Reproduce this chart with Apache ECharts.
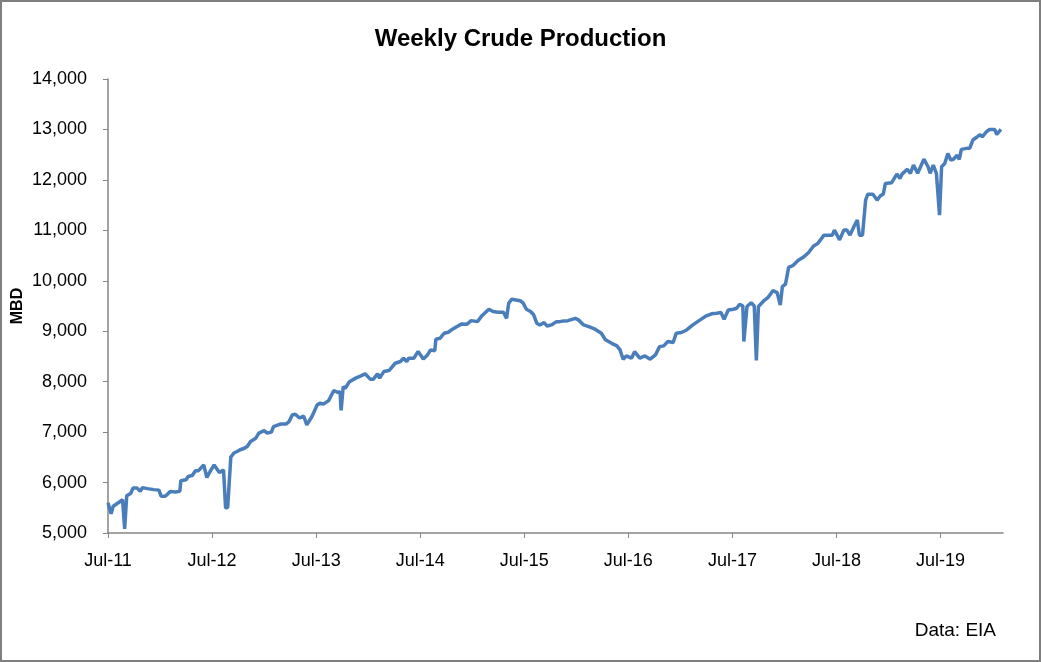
<!DOCTYPE html>
<html>
<head>
<meta charset="utf-8">
<script src="https://cdn.jsdelivr.net/npm/echarts@6/dist/echarts.min.js"></script>
<style>
html,body{margin:0;padding:0;background:#fff;}
#chart{width:1041px;height:662px;}
</style>
</head>
<body>
<div id="chart"></div>
<script>
// Decimal years and weekly crude production (MBD)
const decimalYears = [
2011.50,2011.53,2011.55,2011.62,2011.64,2011.66,2011.68,2011.72,2011.74,2011.78,2011.81,2011.83,2011.88,2011.94,2011.99,
2012.01,2012.05,2012.10,2012.15,2012.19,2012.20,2012.25,2012.27,2012.31,2012.34,2012.37,2012.42,2012.45,2012.49,2012.52,
2012.57,2012.61,2012.63,2012.65,2012.68,2012.71,2012.74,2012.77,2012.81,2012.84,2012.87,2012.92,2012.95,
2013.00,2013.03,2013.07,2013.09,2013.13,2013.16,2013.21,2013.24,2013.27,2013.30,2013.34,2013.38,2013.41,2013.46,2013.51,
2013.54,2013.57,2013.62,2013.67,2013.71,2013.73,2013.74,2013.76,2013.78,2013.82,2013.88,2013.93,2013.97,
2014.02,2014.05,2014.09,2014.11,2014.15,2014.20,2014.26,2014.31,2014.34,2014.37,2014.39,2014.44,2014.48,2014.53,2014.57,
2014.60,2014.64,2014.65,2014.69,2014.73,2014.77,2014.81,2014.85,2014.90,2014.95,2014.99,
2015.05,2015.09,2015.16,2015.20,2015.25,2015.30,2015.33,2015.35,2015.38,2015.42,2015.46,2015.49,2015.52,2015.56,2015.59,
2015.62,2015.65,2015.69,2015.72,2015.76,2015.81,2015.84,2015.88,2015.92,2015.99,
2016.02,2016.07,2016.12,2016.18,2016.24,2016.28,2016.34,2016.39,2016.42,2016.45,2016.48,2016.53,2016.56,2016.61,2016.66,
2016.71,2016.76,2016.80,2016.84,2016.88,2016.93,2016.96,
2017.01,2017.06,2017.12,2017.19,2017.25,2017.30,2017.35,2017.39,2017.42,2017.46,2017.51,2017.54,2017.57,2017.60,2017.61,
2017.64,2017.68,2017.71,2017.73,2017.75,2017.80,2017.84,2017.89,2017.93,2017.96,2017.98,
2018.01,2018.04,2018.08,2018.13,2018.18,2018.23,2018.28,2018.32,2018.38,2018.42,2018.46,2018.48,2018.53,2018.57,2018.60,
2018.63,2018.67,2018.70,2018.72,2018.75,2018.78,2018.80,2018.85,2018.89,2018.92,2018.95,2018.97,
2019.03,2019.08,2019.11,2019.13,2019.18,2019.21,2019.24,2019.28,2019.34,2019.38,2019.40,2019.43,2019.46,2019.49,2019.51,
2019.54,2019.57,2019.60,2019.62,2019.66,2019.68,2019.70,2019.75,2019.78,2019.81,2019.85,2019.88,2019.90,2019.94,2019.97,
2020.02,2020.04,2020.08
];
const production = [
5600,5380,5530,5630,5660,5080,5740,5790,5890,5890,5825,5900,5880,5860,5850,
5730,5730,5825,5815,5825,6035,6055,6120,6140,6235,6235,6350,6100,6250,6350,
6200,6250,5495,5510,6505,6585,6615,6650,6680,6720,6815,6880,6980,
7030,6980,7000,7110,7140,7160,7160,7210,7340,7355,7280,7320,7145,7310,7540,
7575,7555,7625,7825,7785,7800,7430,7900,7870,8000,8070,8115,8155,
8050,8050,8155,8070,8200,8220,8365,8400,8465,8400,8465,8465,8600,8450,8530,
8630,8610,8840,8860,8960,8980,9040,9090,9145,9140,9210,
9190,9300,9435,9390,9375,9375,9255,9555,9635,9620,9605,9555,9435,9390,9325,
9160,9125,9170,9105,9125,9190,9190,9205,9210,9255,
9225,9125,9090,9040,8960,8830,8760,8710,8630,8445,8510,8465,8595,8465,8510,
8445,8530,8695,8710,8795,8775,8960,
8975,9025,9125,9225,9305,9345,9355,9370,9235,9420,9435,9455,9535,9500,8795,
9490,9565,9500,8420,9490,9600,9665,9805,9765,9520,9885,
9935,10265,10300,10400,10465,10555,10690,10740,10905,10905,10905,11005,10810,11005,11005,
10905,11085,11205,10905,10905,11600,11715,11715,11600,11680,11720,11930,
11945,12115,12030,12115,12210,12130,12295,12130,12410,12260,12130,12295,12130,11300,12260,
12325,12525,12390,12405,12490,12405,12605,12625,12625,12790,12850,12900,12850,12950,13000,
13000,12900,13000
];
const yTicks = {min: 5000, max: 14000, interval: 1000};
const xTickLabels = ['Jul-11','Jul-12','Jul-13','Jul-14','Jul-15','Jul-16','Jul-17','Jul-18','Jul-19'];
const startYear = 2011.5;

const seriesData = decimalYears.map((t, i) => [t - startYear, production[i]]);

const chart = echarts.init(document.getElementById('chart'), null, {renderer: 'canvas'});
const font = "'Liberation Sans', Arial, sans-serif";
const axisColor = '#868686';
chart.setOption({
  animation: false,
  backgroundColor: '#ffffff',
  title: {
    text: 'Weekly Crude Production',
    left: 'center',
    top: 22,
    textStyle: {fontFamily: font, fontSize: 24, fontWeight: 'bold', color: '#000'}
  },
  graphic: [
    {type: 'rect', shape: {x: 1, y: 1, width: 1039, height: 660},
     style: {fill: 'none', stroke: '#7f7f7f', lineWidth: 2}, silent: true},
    {type: 'text', right: 45, top: 621,
     style: {text: 'Data: EIA', fontFamily: font, fontSize: 19, fill: '#000'}},
    {type: 'text', x: 18, y: 306, rotation: Math.PI / 2,
     style: {text: 'MBD', fontFamily: font, fontSize: 16, fontWeight: 'bold', fill: '#000',
             align: 'center', verticalAlign: 'middle'}}
  ],
  grid: {left: 108, right: 38, top: 79, bottom: 129, containLabel: false, outerBoundsMode: 'none'},
  xAxis: {
    type: 'value',
    min: 0,
    max: 8.6,
    interval: 1,
    splitLine: {show: false},
    axisLine: {lineStyle: {color: axisColor, width: 1.5}},
    axisTick: {show: true, length: 5, lineStyle: {color: axisColor}},
    axisLabel: {
      margin: 19,
      fontFamily: font, fontSize: 18, color: '#000',
      showMaxLabel: false,
      formatter: v => xTickLabels[Math.round(v)] || ''
    }
  },
  yAxis: {
    type: 'value',
    min: yTicks.min,
    max: yTicks.max,
    interval: yTicks.interval,
    splitLine: {show: false},
    axisLine: {show: true, lineStyle: {color: axisColor, width: 1.5}},
    axisTick: {show: true, length: 5, lineStyle: {color: axisColor}},
    axisLabel: {
      margin: 21,
      fontFamily: font, fontSize: 18, color: '#000',
      formatter: v => v.toLocaleString('en-US')
    }
  },
  series: [{
    type: 'line',
    data: seriesData,
    showSymbol: false,
    symbol: 'none',
    lineStyle: {color: '#4a7ebb', width: 3.5},
    itemStyle: {color: '#4a7ebb'}
  }]
});
</script>
</body>
</html>
